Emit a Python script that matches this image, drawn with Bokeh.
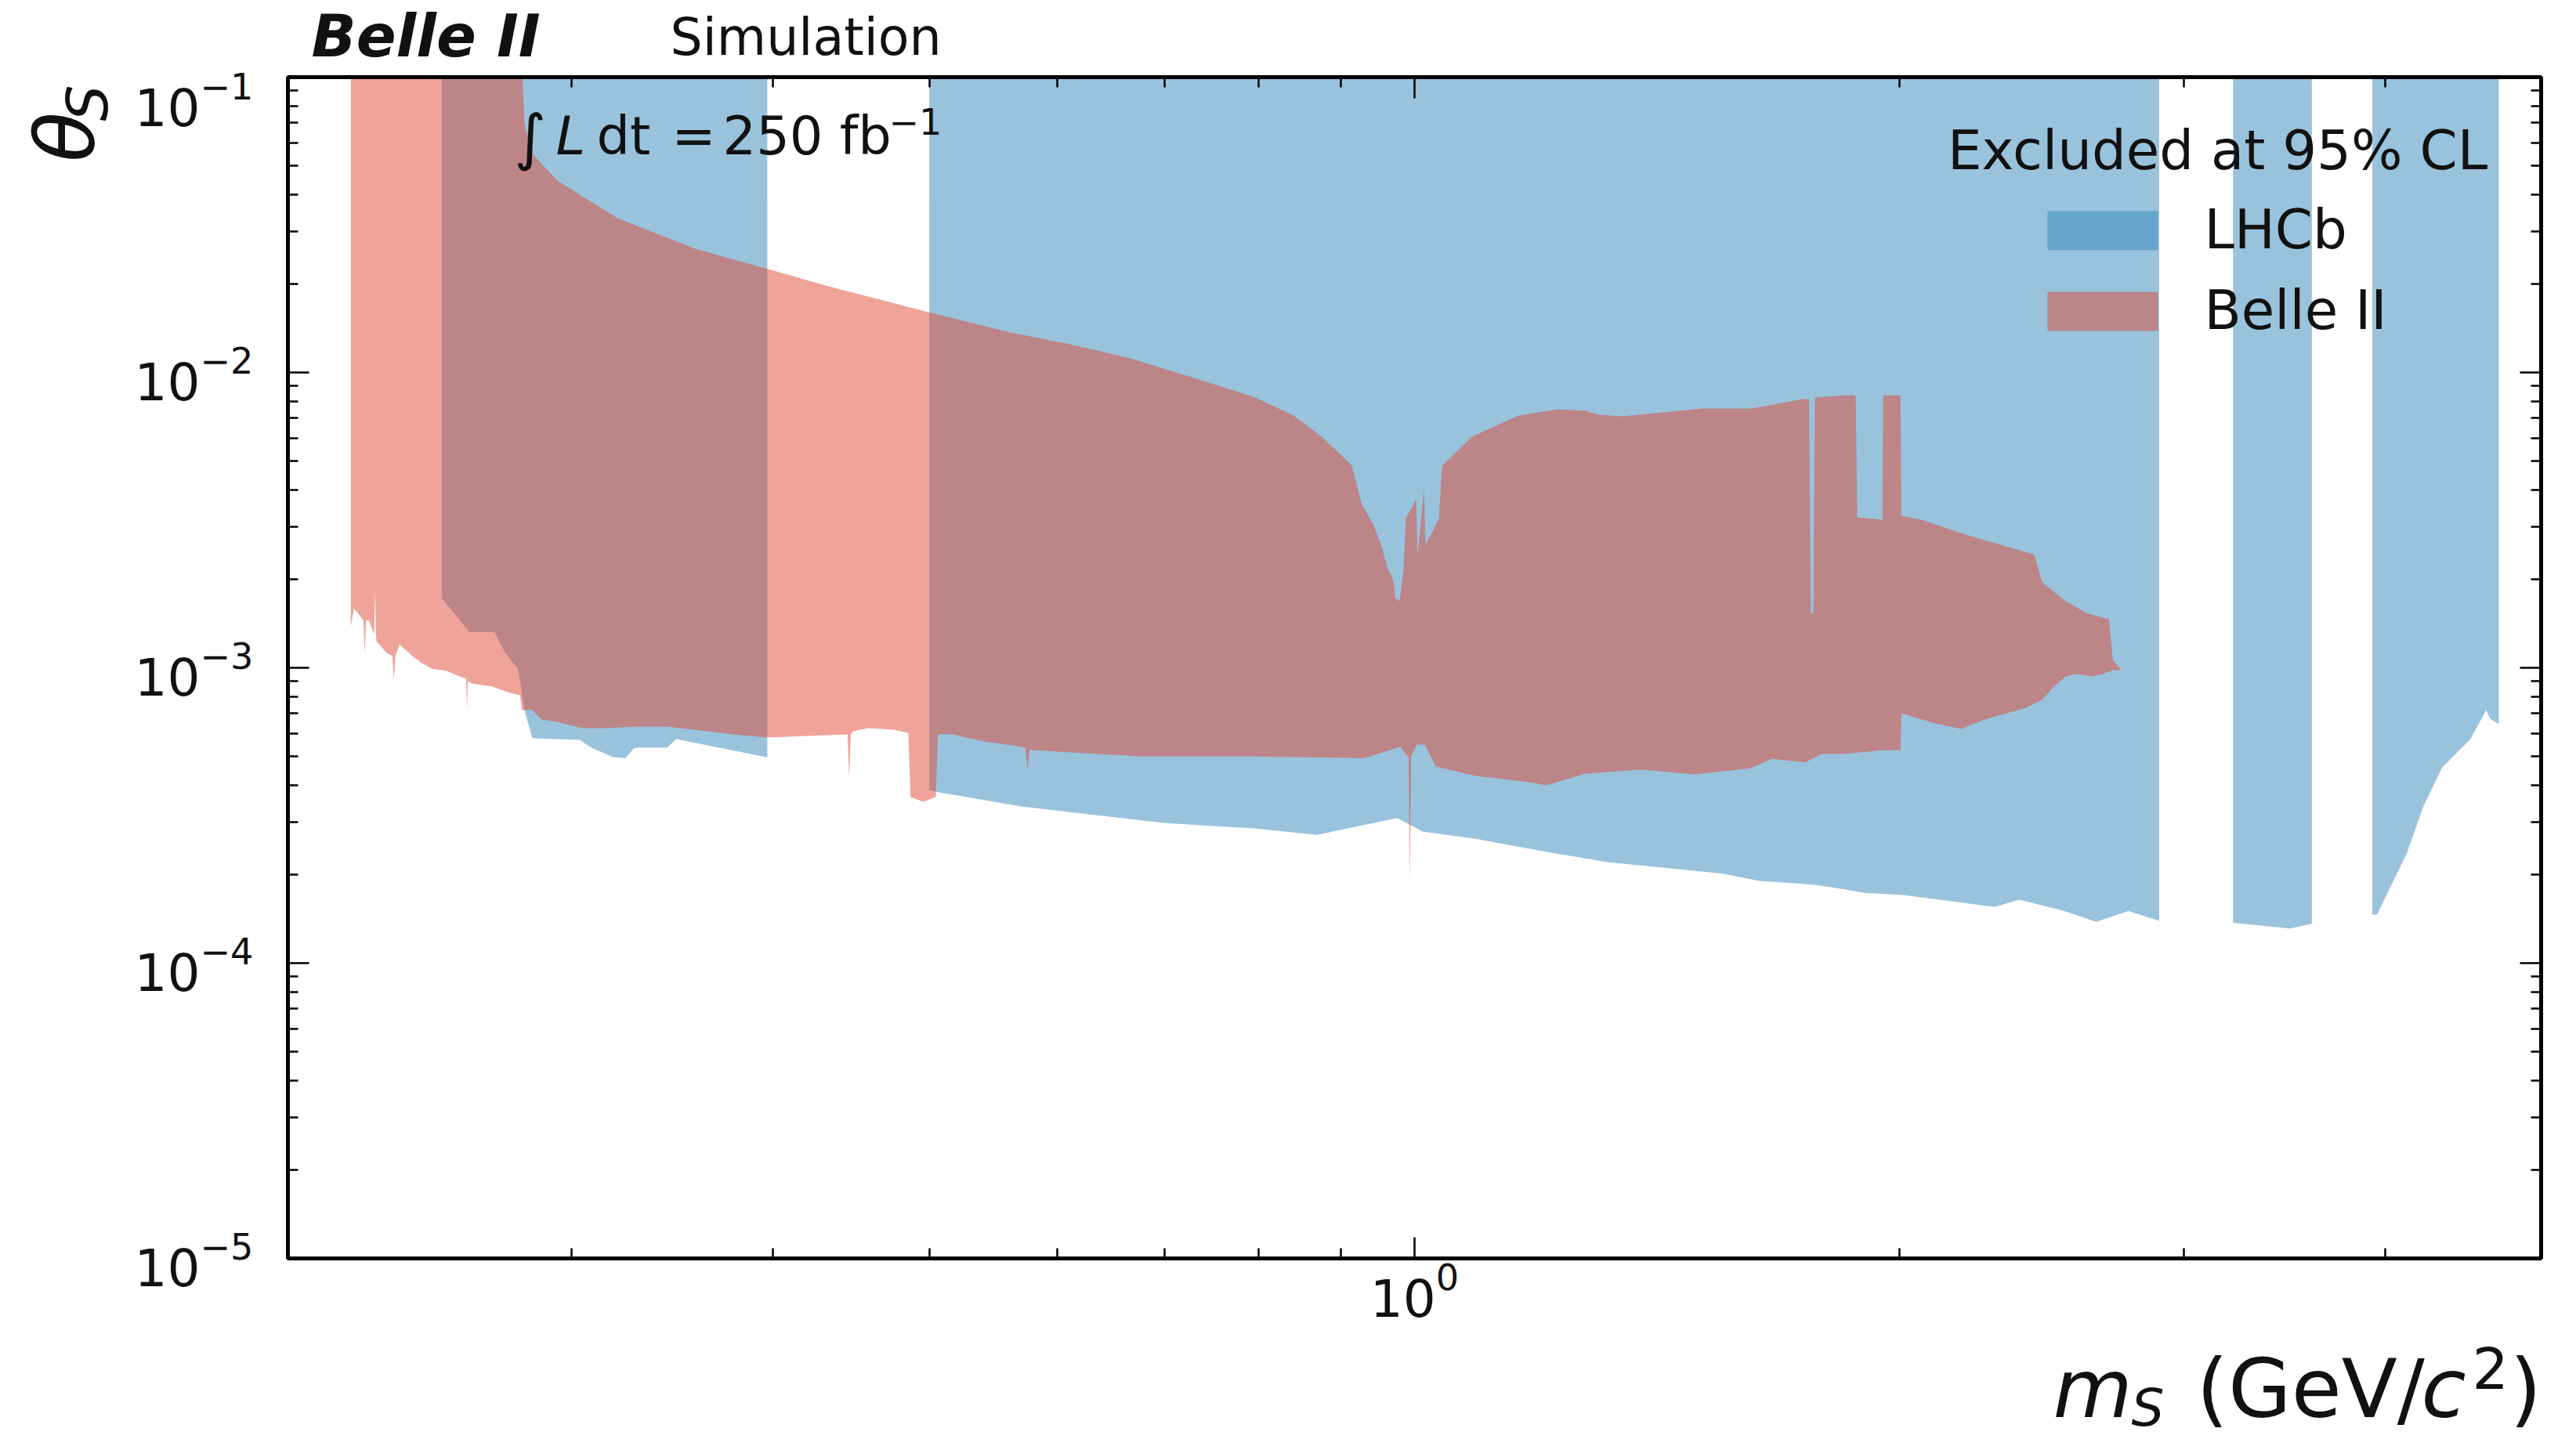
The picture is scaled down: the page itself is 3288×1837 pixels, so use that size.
import math
from bokeh.plotting import figure
from bokeh.layouts import column, row
from bokeh.models import Label, FixedTicker, LogAxis, BoxAnnotation, Range1d
from bokeh.embed import file_html
from bokeh.resources import INLINE

# ---------------- data ----------------
# LHCb excluded region: lower boundary per mass segment (region extends to the top)
LHCB_M1 = [0.2492, 0.2592, 0.2687, 0.2726, 0.2779, 0.2804, 0.2836, 0.3034, 0.3086,
           0.3184, 0.3238, 0.3282, 0.3437, 0.3483, 0.3967]
LHCB_T1 = [1.72e-3, 1.32e-3, 1.32e-3, 1.13e-3, 9.9e-4, 7.2e-4, 5.77e-4, 5.70e-4, 5.36e-4,
           4.98e-4, 4.95e-4, 5.36e-4, 5.36e-4, 5.74e-4, 4.98e-4]
LHCB_M2 = [0.5000, 0.5063, 0.5671, 0.5754, 0.7003, 0.7952, 0.8700, 0.9756, 1.0113, 1.0891,
           1.2130, 1.3169, 1.5530, 1.6356, 1.7757, 1.8448, 1.8993, 2.0091, 2.2909, 2.3720,
           2.5208, 2.6484, 2.7733, 2.8973]
LHCB_T2 = [3.85e-4, 3.79e-4, 3.41e-4, 3.37e-4, 2.98e-4, 2.86e-4, 2.72e-4, 3.10e-4, 2.79e-4, 2.64e-4,
           2.37e-4, 2.20e-4, 2.01e-4, 1.90e-4, 1.84e-4, 1.78e-4, 1.73e-4, 1.70e-4, 1.55e-4, 1.64e-4,
           1.51e-4, 1.38e-4, 1.50e-4, 1.39e-4]
LHCB_M3 = [3.2196, 3.4917, 3.6035]
LHCB_T3 = [1.37e-4, 1.31e-4, 1.36e-4]
LHCB_M4 = [3.928, 3.955, 4.1266, 4.2255, 4.3407, 4.5196, 4.6228, 4.6485, 4.7065]
LHCB_T4 = [1.46e-4, 1.46e-4, 2.35e-4, 3.39e-4, 4.60e-4, 5.74e-4, 7.19e-4, 6.72e-4, 6.44e-4]
LHCB_TOP = 0.15

# Belle II excluded region: upper and lower boundaries (mass, theta)
BELLE_UPPER = [
    (0.2188, 0.15), (0.2786, 0.15), (0.2804, 6.98e-2), (0.2839, 5.46e-2), (0.2938, 4.47e-2),
    (0.3202, 3.33e-2), (0.3581, 2.62e-2), (0.3972, 2.24e-2), (0.4325, 1.96e-2), (0.4995, 1.60e-2),
    (0.5601, 1.37e-2), (0.6099, 1.25e-2), (0.6653, 1.12e-2), (0.7244, 9.70e-3), (0.7943, 8.28e-3),
    (0.8413, 7.15e-3), (0.8758, 6.06e-3), (0.9141, 4.86e-3), (0.9275, 3.58e-3), (0.9432, 3.04e-3),
    (0.9539, 2.58e-3), (0.9625, 2.17e-3), (0.9701, 1.98e-3), (0.9734, 1.72e-3), (0.9789, 1.68e-3),
    (0.9844, 2.15e-3), (0.9877, 3.21e-3), (1.0023, 3.72e-3), (1.0045, 2.38e-3), (1.0136, 4.05e-3),
    (1.0158, 2.61e-3), (1.0354, 3.19e-3), (1.0401, 4.83e-3), (1.0855, 6.06e-3), (1.1599, 7.15e-3),
    (1.2282, 7.50e-3), (1.2775, 7.41e-3), (1.3007, 7.19e-3), (1.3452, 7.10e-3), (1.5083, 7.55e-3),
    (1.6172, 7.55e-3), (1.7418, 8.12e-3), (1.7569, 8.12e-3), (1.7617, 1.53e-3), (1.7680, 1.53e-3),
    (1.7716, 8.22e-3), (1.8448, 8.37e-3), (1.8780, 8.37e-3), (1.8823, 3.23e-3), (1.9511, 3.17e-3),
    (1.9533, 8.37e-3), (2.0022, 8.37e-3), (2.0045, 3.27e-3), (2.0638, 3.17e-3), (2.1827, 2.86e-3),
    (2.2651, 2.69e-3), (2.4234, 2.42e-3), (2.4509, 1.95e-3), (2.5348, 1.68e-3), (2.6132, 1.53e-3),
    (2.6965, 1.46e-3), (2.7120, 1.06e-3), (2.7333, 1.01e-3), (2.7396, 1.00e-3)]
BELLE_LOWER = [
    (0.2188, 1.38e-3), (0.2198, 1.59e-3), (0.2228, 1.45e-3), (0.2232, 1.11e-3), (0.2236, 1.45e-3),
    (0.2245, 1.45e-3), (0.2262, 1.30e-3), (0.2265, 1.85e-3), (0.2268, 1.30e-3), (0.2270, 1.23e-3),
    (0.2304, 1.12e-3), (0.2322, 1.10e-3), (0.2327, 9.07e-4), (0.2332, 1.10e-3), (0.2346, 1.20e-3),
    (0.2388, 1.10e-3), (0.2420, 1.04e-3), (0.2456, 9.94e-4), (0.2509, 9.76e-4), (0.2563, 9.29e-4),
    (0.2580, 9.20e-4), (0.2583, 7.19e-4), (0.2586, 9.00e-4), (0.2601, 8.85e-4), (0.2678, 8.64e-4),
    (0.2736, 8.28e-4), (0.2786, 8.08e-4), (0.2795, 7.19e-4), (0.2836, 7.19e-4), (0.2873, 6.68e-4),
    (0.2938, 6.56e-4), (0.3044, 6.25e-4), (0.3155, 6.25e-4), (0.3271, 6.32e-4), (0.3441, 6.32e-4),
    (0.3642, 6.10e-4), (0.3776, 5.95e-4), (0.3967, 5.81e-4), (0.4201, 5.88e-4), (0.4449, 5.95e-4),
    (0.4459, 4.25e-4), (0.4469, 5.95e-4), (0.4484, 6.10e-4), (0.4581, 6.25e-4), (0.4749, 6.17e-4),
    (0.4852, 6.02e-4), (0.4868, 3.65e-4), (0.4956, 3.52e-4), (0.5046, 3.65e-4), (0.5063, 5.95e-4),
    (0.5172, 5.95e-4), (0.5404, 5.63e-4), (0.5671, 5.43e-4), (0.5734, 5.36e-4), (0.5754, 4.52e-4),
    (0.5770, 5.30e-4), (0.5799, 5.26e-4), (0.6788, 5.01e-4), (0.7952, 5.01e-4), (0.9307, 4.95e-4),
    (0.9800, 5.40e-4), (0.9877, 5.08e-4), (0.9915, 5.00e-4), (0.9933, 1.85e-4), (0.9950, 5.00e-4),
    (1.0034, 5.50e-4), (1.0147, 5.50e-4), (1.0308, 4.63e-4), (1.0891, 4.31e-4), (1.1783, 4.10e-4),
    (1.2075, 4.00e-4), (1.2760, 4.38e-4), (1.3804, 4.52e-4), (1.4932, 4.36e-4), (1.6154, 4.57e-4),
    (1.6672, 4.92e-4), (1.7475, 4.78e-4), (1.7897, 5.11e-4), (1.8448, 5.11e-4), (1.9511, 5.26e-4),
    (2.0022, 5.26e-4), (2.0045, 7.02e-4), (2.1037, 6.48e-4), (2.1827, 6.21e-4), (2.2651, 6.72e-4),
    (2.3962, 7.32e-4), (2.4509, 7.78e-4), (2.4898, 8.59e-4), (2.5348, 9.35e-4), (2.5750, 9.52e-4),
    (2.6338, 9.35e-4), (2.6724, 9.52e-4), (2.7120, 9.82e-4), (2.7396, 9.80e-4)]

LEGEND_TITLE = "Excluded at 95% CL"
SERIES = ["LHCb", "Belle II"]
LHCB_COLOR = "#3387bb"
BELLE_COLOR = "#df4733"

# ---------------- layout (absolute canvas pixels) ----------------
W, H = 3288, 1837
XMIN, XMAX = 0.2, 5.0
YMIN, YMAX = 1e-5, 1e-1
FL, FT, FW, FH = 367, 98, 2876, 1508        # plot frame in the full canvas
HEAD_H = 92                                   # header strip height
LEFT_W = 160                                  # y-label strip width
FOOT_Y = 1704                                 # top of the x-label strip
MAIN_W = W - LEFT_W
MAIN_H = FOOT_Y - HEAD_H
FONT = "DejaVu Sans"
TXT = "#111111"


def px_x(px):
    lo, hi = math.log10(XMIN), math.log10(XMAX)
    return 10 ** (lo + (px - FL) / FW * (hi - lo))


def px_y(py):
    lo, hi = math.log10(YMIN), math.log10(YMAX)
    return 10 ** (hi - (py - FT) / FH * (hi - lo))


p = figure(width=MAIN_W, height=MAIN_H, x_axis_type="log", y_axis_type="log",
           x_range=(XMIN, XMAX), y_range=(YMIN, YMAX),
           output_backend="svg", toolbar_location=None,
           min_border_left=FL - LEFT_W, min_border_right=W - FL - FW,
           min_border_top=FT - HEAD_H, min_border_bottom=FOOT_Y - FT - FH)
p.grid.visible = False
p.outline_line_color = "black"
p.outline_line_width = 5
p.background_fill_color = "white"
p.border_fill_color = "white"

# LHCb region
segs = [(LHCB_M1, LHCB_T1), (LHCB_M2, LHCB_T2), (LHCB_M3, LHCB_T3), (LHCB_M4, LHCB_T4)]
xs = [list(m) + [m[-1], m[0]] for m, t in segs]
ys = [list(t) + [LHCB_TOP, LHCB_TOP] for m, t in segs]
p.patches(xs, ys, fill_color=LHCB_COLOR, fill_alpha=0.5, line_color=None)

# Belle II region
bx = [m for m, _ in BELLE_UPPER] + [m for m, _ in reversed(BELLE_LOWER)]
by = [t for _, t in BELLE_UPPER] + [t for _, t in reversed(BELLE_LOWER)]
p.patch(bx, by, fill_color=BELLE_COLOR, fill_alpha=0.5, line_color=None)

# ---------------- axes ----------------
yt = FixedTicker(ticks=[10.0 ** e for e in range(-5, 0)],
                 minor_ticks=[k * 10.0 ** e for e in range(-5, -1) for k in range(2, 10)])
xt = FixedTicker(ticks=[1.0], minor_ticks=[k / 10 for k in range(3, 10)] + [2.0, 3.0, 4.0])

bottom_ax = p.below[0]
left_ax = p.left[0]
bottom_ax.ticker = xt
left_ax.ticker = yt

top_ax = LogAxis(ticker=xt)
right_ax = LogAxis(ticker=yt)
p.add_layout(top_ax, "above")
p.add_layout(right_ax, "right")

for ax in [bottom_ax, left_ax, top_ax, right_ax]:
    ax.axis_line_color = "black"
    ax.axis_line_width = 5
    ax.major_tick_in = 27
    ax.major_tick_out = 0
    ax.minor_tick_in = 13
    ax.minor_tick_out = 0
    ax.major_tick_line_width = 2.5
    ax.minor_tick_line_width = 2.5
    ax.major_tick_line_color = "black"
    ax.minor_tick_line_color = "black"
    ax.major_label_text_font = FONT
    ax.major_label_text_color = TXT
    ax.major_label_text_font_size = "66px"

for ax in [top_ax, right_ax]:
    ax.major_label_text_font_size = "1px"
    ax.major_label_text_alpha = 0
    ax.major_label_standoff = 0

bottom_ax.major_label_standoff = 3
left_ax.major_label_standoff = 44


def strip(width, height):
    s = figure(width=width, height=height, x_range=Range1d(0, width), y_range=Range1d(height, 0),
               output_backend="svg", toolbar_location=None,
               x_axis_location=None, y_axis_location=None,
               min_border=0, min_border_left=0, min_border_right=0,
               min_border_top=0, min_border_bottom=0)
    s.grid.visible = False
    s.outline_line_color = None
    s.background_fill_color = "white"
    s.border_fill_color = "white"
    return s


head = strip(W, HEAD_H)                 # origin (0, 0)
side = strip(LEFT_W, MAIN_H)            # origin (0, HEAD_H)
foot = strip(W, H - FOOT_Y)             # origin (0, FOOT_Y)


def add_text(fig, text, xpx, ypx, size, style="normal", align="left", angle=0.0, origin=None):
    # (xpx, ypx): text start and baseline in full-canvas pixels; the anchor is the cap middle
    shift = 0.37 * size
    if angle:
        ax_, ay_ = xpx - shift, ypx
    else:
        ax_, ay_ = xpx, ypx - shift
    if origin is None:
        x, y = px_x(ax_), px_y(ay_)
    else:
        x, y = ax_ - origin[0], ay_ - origin[1]
    fig.add_layout(Label(x=x, y=y, text=text, text_font=FONT,
                         text_font_style=style, text_font_size=f"{size}px",
                         text_align=align, text_baseline="middle", angle=angle,
                         text_color=TXT))


# header texts
add_text(head, "Belle II", 397, 73, 75, style="bold italic", origin=(0, 0))
add_text(head, "Simulation", 855, 71, 65, origin=(0, 0))

# luminosity text (inside the frame)
add_text(p, "\u222b", 656, 203, 78)
add_text(p, "L", 709, 198, 68, style="italic")
add_text(p, "dt", 761, 198, 67)
add_text(p, "=", 857, 198, 67)
add_text(p, "250 fb", 922, 198, 67)
add_text(p, "\u22121", 1134, 172, 46)

# y axis label
add_text(side, "\u03b8", 122, 208, 105, style="italic", angle=math.pi / 2, origin=(0, HEAD_H))
add_text(side, "S", 138, 152, 73, style="italic", angle=math.pi / 2, origin=(0, HEAD_H))

# x axis label
fo = (0, FOOT_Y)
XB = 1811                                  # baseline of the x axis label
add_text(foot, "m", 2620, XB, 104, style="italic", origin=fo)
add_text(foot, "S", 2720, XB + 10, 66, style="italic", origin=fo)
add_text(foot, "(GeV/", 2803, XB, 104, origin=fo)
add_text(foot, "c", 3090, XB, 104, style="italic", origin=fo)
add_text(foot, "2", 3155, XB - 38, 73, origin=fo)
add_text(foot, ")", 3203, XB, 104, origin=fo)

# legend
add_text(p, LEGEND_TITLE, 2830, 217, 69, align="center")
legend_rows = [(SERIES[0], LHCB_COLOR, 269), (SERIES[1], BELLE_COLOR, 372)]
for name, col, top in legend_rows:
    p.add_layout(BoxAnnotation(left=px_x(2613), right=px_x(2754), top=px_y(top), bottom=px_y(top + 50),
                               fill_color=col, fill_alpha=0.5, line_color=None))
    add_text(p, name, 2813, top + 49, 69)

layout = column(head, row(side, p, spacing=0), foot, spacing=0)
open("out.html", "w").write(file_html(layout, INLINE))
